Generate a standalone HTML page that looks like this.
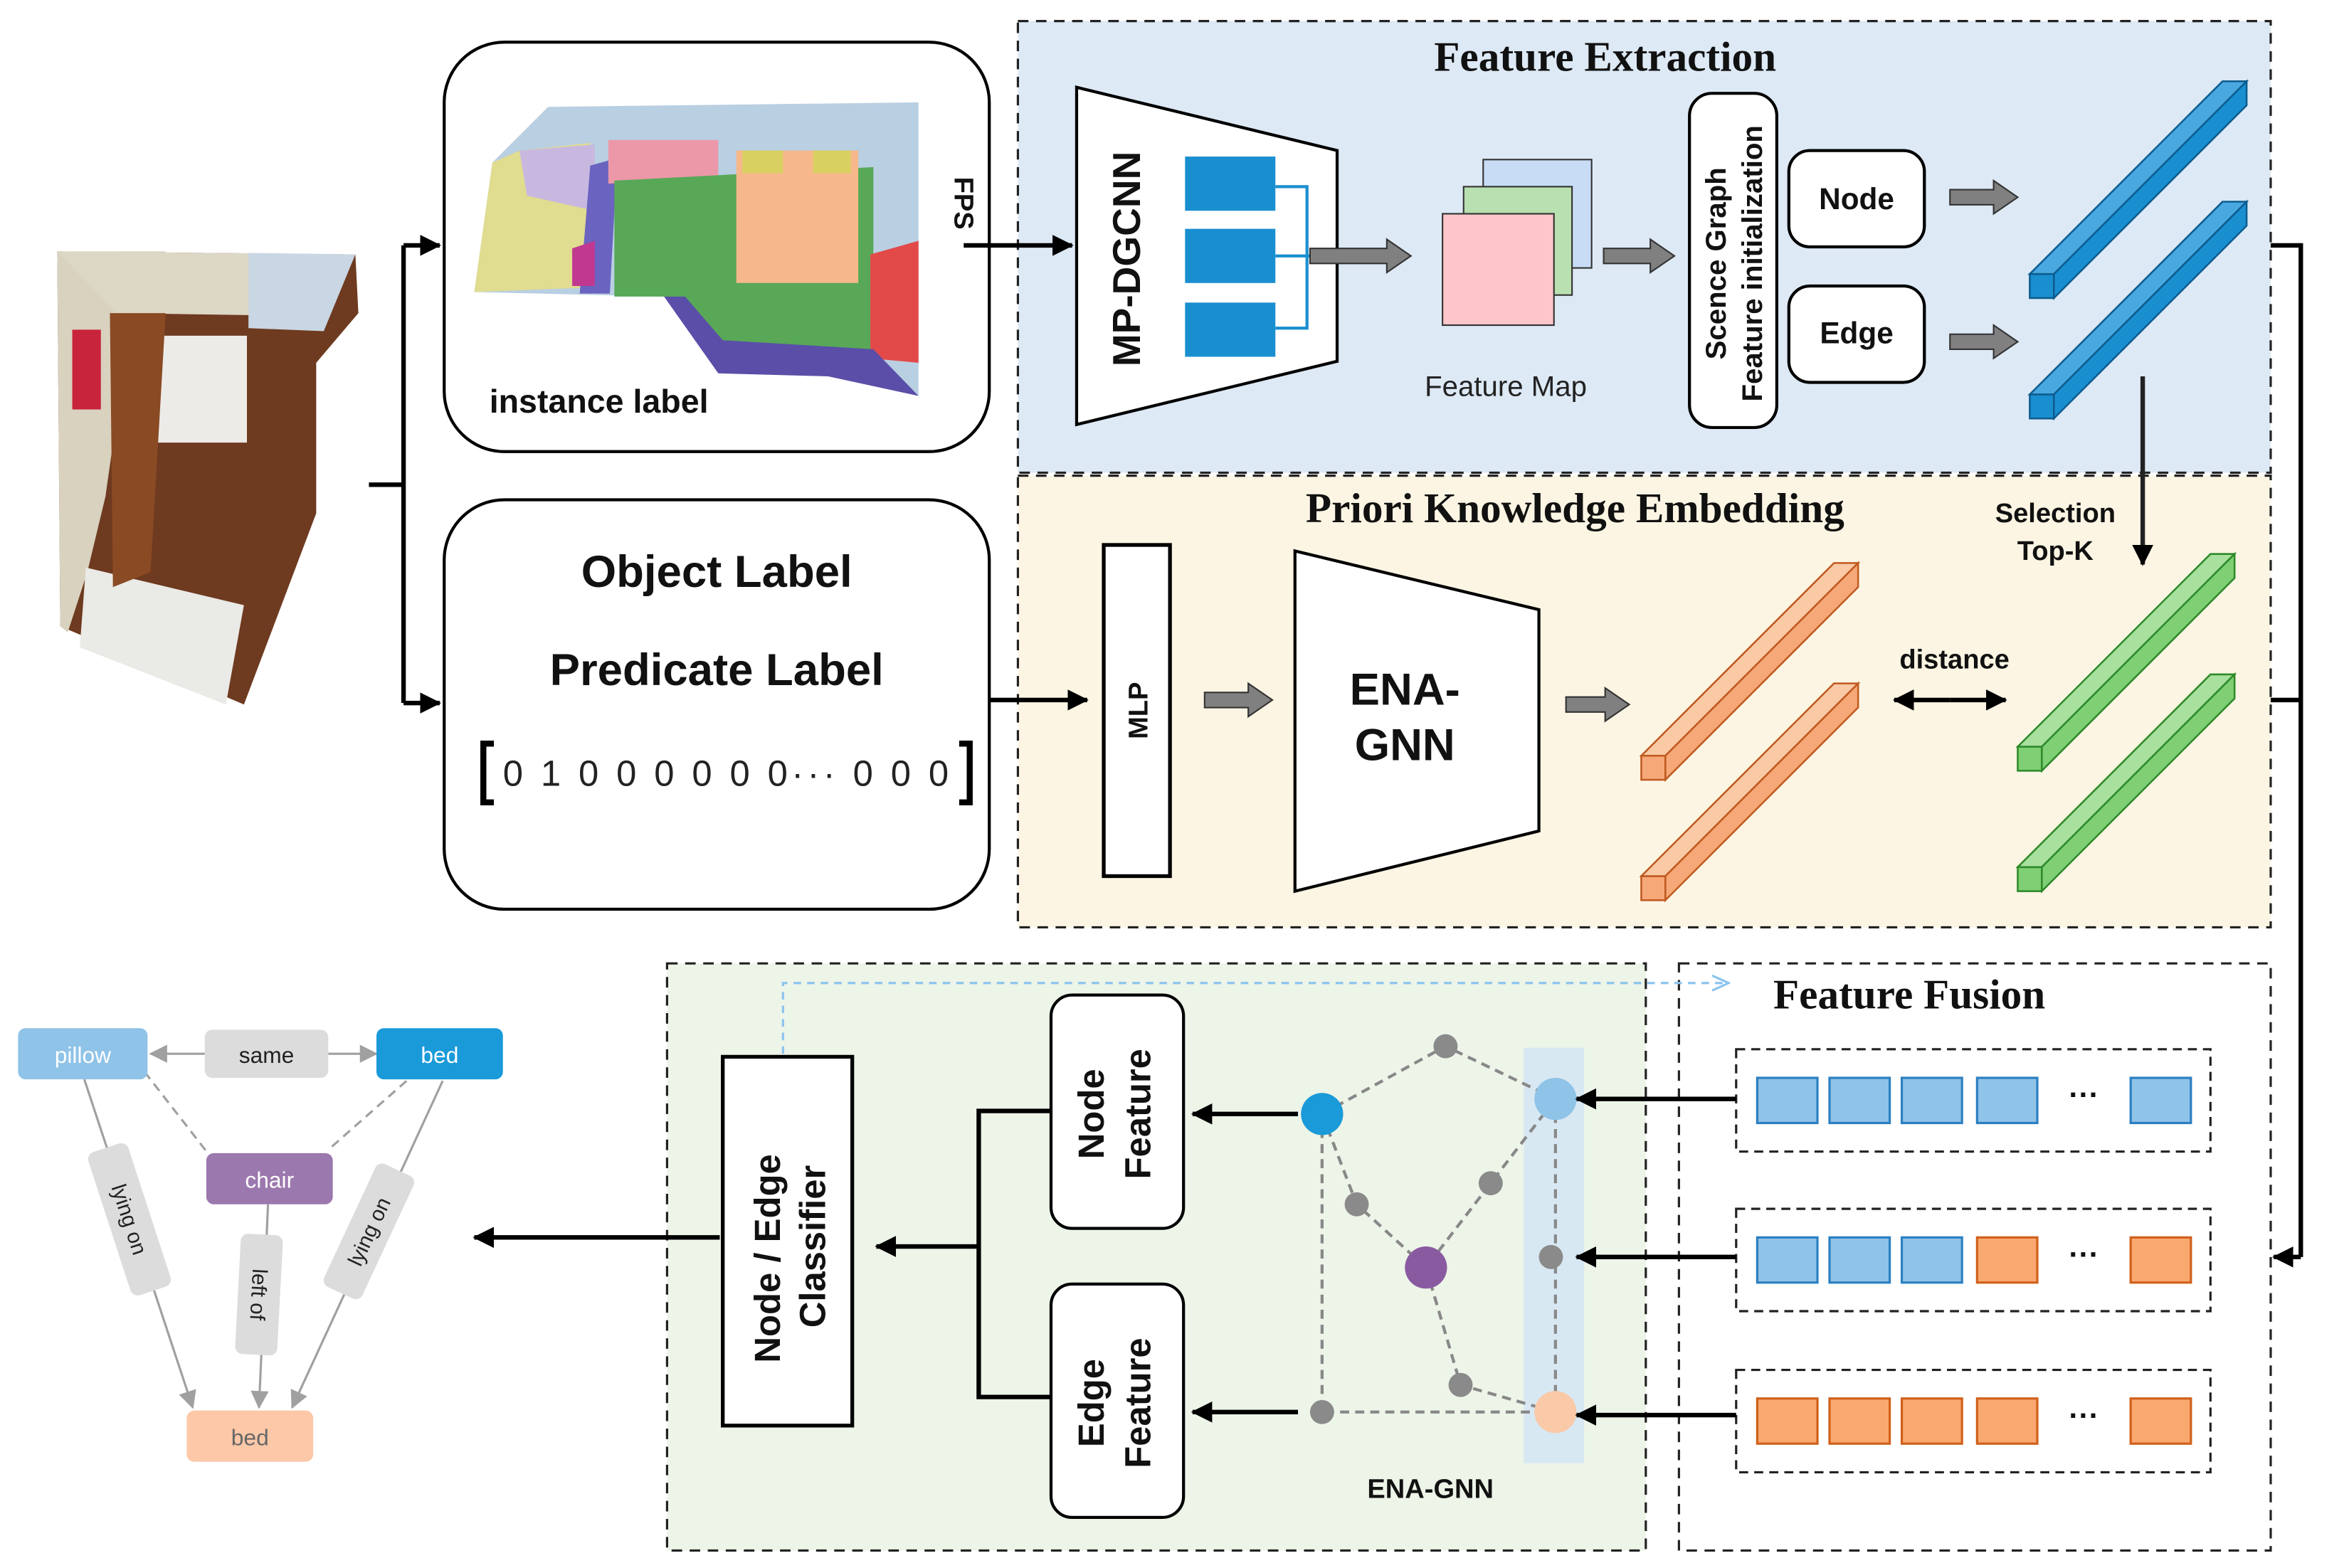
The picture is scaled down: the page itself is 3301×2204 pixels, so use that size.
<!DOCTYPE html>
<html><head><meta charset="utf-8"><style>
html,body{margin:0;padding:0;background:#fff;width:3301px;height:2204px;overflow:hidden}
svg{display:block}
.b{font-family:"Liberation Sans",Arial,sans-serif;font-weight:bold;fill:#111}
.s{font-family:"Liberation Serif",serif;font-weight:bold;fill:#111}
.n{font-family:"Liberation Sans",Arial,sans-serif;fill:#222}
</style></head><body>
<svg width="3301" height="2204" viewBox="0 0 1560 1041.6" preserveAspectRatio="none" xmlns="http://www.w3.org/2000/svg">
<defs>
<marker id="ahb" markerWidth="14" markerHeight="14" refX="13" refY="7" orient="auto" markerUnits="userSpaceOnUse"><path d="M0,0 L14,7 L0,14 z" fill="#000"/></marker>
<marker id="ahg" markerWidth="12" markerHeight="12" refX="11" refY="6" orient="auto" markerUnits="userSpaceOnUse"><path d="M0,0 L12,6 L0,12 z" fill="#a0a0a0"/></marker>
<marker id="ahl" markerWidth="12" markerHeight="12" refX="11" refY="6" orient="auto" markerUnits="userSpaceOnUse"><path d="M0,1 L11,6 L0,11" fill="none" stroke="#8cc4ee" stroke-width="1.5"/></marker>
</defs>

<!-- regions -->
<rect x="676" y="14" width="832" height="300" fill="#dde9f5" stroke="#222" stroke-width="1.5" stroke-dasharray="7,5"/>
<rect x="676" y="316" width="832" height="300" fill="#fcf5e3" stroke="#222" stroke-width="1.5" stroke-dasharray="7,5"/>
<rect x="443" y="640" width="650" height="390" fill="#edf4e8" stroke="#222" stroke-width="1.5" stroke-dasharray="7,5"/>
<rect x="1115" y="640" width="393" height="390" fill="#fff" stroke="#222" stroke-width="1.5" stroke-dasharray="7,5"/>

<text x="1066" y="47" text-anchor="middle" class="s" font-size="28">Feature Extraction</text>
<text x="1046" y="347" text-anchor="middle" class="s" font-size="28">Priori Knowledge Embedding</text>
<text x="1268" y="670" text-anchor="middle" class="s" font-size="28">Feature Fusion</text>

<!-- room photo -->
<polygon points="38,167 236,169 238,208 210,241 210,341 162,468 40,416" fill="#6e3a20"/>
<polygon points="38,167 110,167 80,260 70,330 58,380 45,420 40,416" fill="#d8d2bf"/>
<polygon points="38,167 236,169 210,210 78,208" fill="#ddd7c5"/>
<polygon points="165,168 236,169 215,220 165,218" fill="#c9d6e3"/>
<polygon points="81,223 164,223 164,294 81,294" fill="#ecebe8"/>
<polygon points="57,377 162,402 150,468 53,430" fill="#eaeae6"/>
<rect x="48" y="219" width="19" height="53" fill="#c8243c"/>
<polygon points="73,208 110,208 100,380 75,390" fill="#8a4a24"/>

<!-- bracket -->
<line x1="245" y1="322" x2="268" y2="322" stroke="#000" stroke-width="3"/>
<line x1="268" y1="163" x2="268" y2="467" stroke="#000" stroke-width="3"/>
<line x1="268" y1="163" x2="292" y2="163" stroke="#000" stroke-width="3" marker-end="url(#ahb)"/>
<line x1="268" y1="467" x2="292" y2="467" stroke="#000" stroke-width="3" marker-end="url(#ahb)"/>

<!-- box1 -->
<rect x="295" y="28" width="362" height="272" rx="40" fill="#fff" stroke="#000" stroke-width="2"/>
<polygon points="364,71 610,68 610,263 550,241 477,238 441,197 315,194 327,108" fill="#b9cfe2"/>
<polygon points="327,108 345,100 392,95 392,191 315,194" fill="#e0dc90"/>
<polygon points="345,100 395,96 395,140 350,130" fill="#c8b8e0"/>
<polygon points="392,110 410,105 405,195 385,195" fill="#6a64c0"/>
<polygon points="404,93 477,93 477,118 404,122" fill="#ec98a8"/>
<polygon points="408,120 580,111 580,238 477,238 441,197 408,197" fill="#58a858"/>
<polygon points="489,100 570,100 570,188 489,188" fill="#f6b88a"/>
<polygon points="493,100 520,100 520,115 493,115" fill="#d8d060"/>
<polygon points="540,100 565,100 565,115 540,115" fill="#d8d060"/>
<polygon points="578,169 610,160 610,241 578,238" fill="#e24a4a"/>
<polygon points="441,197 455,197 480,226 580,232 610,263 550,250 477,248" fill="#5a4ea8"/>
<polygon points="380,165 395,160 395,190 380,190" fill="#c03890"/>
<text x="325" y="274" class="b" font-size="22">instance label</text>
<text transform="translate(634,135) rotate(90)" text-anchor="middle" class="b" font-size="18">FPS</text>
<line x1="640" y1="163" x2="712" y2="163" stroke="#000" stroke-width="3" marker-end="url(#ahb)"/>

<!-- MP-DGCNN -->
<polygon points="715,58 888,100 888,240 715,282" fill="#fff" stroke="#000" stroke-width="2"/>
<text transform="translate(757,172) rotate(-90)" text-anchor="middle" class="b" font-size="26">MP-DGCNN</text>
<rect x="787" y="104" width="60" height="36" fill="#1a8fd0"/>
<rect x="787" y="152" width="60" height="36" fill="#1a8fd0"/>
<rect x="787" y="201" width="60" height="36" fill="#1a8fd0"/>
<polyline points="847,124 868,124 868,218 847,218" fill="none" stroke="#1a8fd0" stroke-width="2"/>
<line x1="847" y1="170" x2="870" y2="170" stroke="#1a8fd0" stroke-width="2"/>
<polygon points="870,165 921,165 921,159 937,170 921,181 921,175 870,175" fill="#808080" stroke="#333"/>

<rect x="985" y="106" width="72" height="72" fill="#c8dcf5" stroke="#333"/>
<rect x="972" y="124" width="72" height="72" fill="#b9e0b0" stroke="#333"/>
<rect x="958" y="142" width="74" height="74" fill="#fcc6cb" stroke="#333"/>
<text x="1000" y="263" text-anchor="middle" class="n" font-size="19">Feature Map</text>
<polygon points="1065,165 1096,165 1096,159 1112,170 1096,181 1096,175 1065,175" fill="#808080" stroke="#333"/>

<rect x="1122" y="62" width="58" height="222" rx="15" fill="#fff" stroke="#000" stroke-width="2"/>
<text transform="translate(1146,175) rotate(-90)" text-anchor="middle" class="b" font-size="19">Scence Graph</text>
<text transform="translate(1170,175) rotate(-90)" text-anchor="middle" class="b" font-size="19">Feature initialization</text>
<rect x="1188" y="100" width="90" height="64" rx="14" fill="#fff" stroke="#000" stroke-width="2"/>
<text x="1233" y="139" text-anchor="middle" class="b" font-size="20">Node</text>
<rect x="1188" y="190" width="90" height="64" rx="14" fill="#fff" stroke="#000" stroke-width="2"/>
<text x="1233" y="228" text-anchor="middle" class="b" font-size="20">Edge</text>
<polygon points="1295,126 1324,126 1324,120 1340,131 1324,142 1324,136 1295,136" fill="#808080" stroke="#333"/>
<polygon points="1295,222 1324,222 1324,216 1340,227 1324,238 1324,232 1295,232" fill="#808080" stroke="#333"/>

<!-- blue bars -->
<g fill="#1a8fd0" stroke="#0d5c8f" stroke-width="1.2">
<rect x="1348" y="182" width="16" height="16"/>
<polygon points="1348,182 1476,54 1492,54 1364,182" fill="#4aa8e0"/>
<polygon points="1364,182 1492,54 1492,70 1364,198"/>
<rect x="1348" y="262" width="16" height="16"/>
<polygon points="1348,262 1476,134 1492,134 1364,262" fill="#4aa8e0"/>
<polygon points="1364,262 1492,134 1492,150 1364,278"/>
</g>
<line x1="1423" y1="250" x2="1423" y2="375" stroke="#222" stroke-width="3" marker-end="url(#ahb)"/>
<text x="1365" y="347" text-anchor="middle" class="b" font-size="18">Selection</text>
<text x="1365" y="372" text-anchor="middle" class="b" font-size="18">Top-K</text>

<!-- right connector -->
<polyline points="1508,163 1528,163 1528,835" fill="none" stroke="#000" stroke-width="3"/>
<line x1="1508" y1="465" x2="1528" y2="465" stroke="#000" stroke-width="3"/>
<line x1="1528" y1="835" x2="1510" y2="835" stroke="#000" stroke-width="3" marker-end="url(#ahb)"/>

<!-- box2 -->
<rect x="295" y="332" width="362" height="272" rx="40" fill="#fff" stroke="#000" stroke-width="2"/>
<text x="476" y="390" text-anchor="middle" class="b" font-size="30">Object Label</text>
<text x="476" y="455" text-anchor="middle" class="b" font-size="30">Predicate Label</text>
<text x="334" y="522" textLength="296" lengthAdjust="spacing" class="n" font-size="24" fill="#000">0 1 0 0 0 0 0 0··· 0 0 0</text>
<polyline points="328,494 321,494 321,533 328,533" fill="none" stroke="#000" stroke-width="4"/>
<polyline points="637,494 644,494 644,533 637,533" fill="none" stroke="#000" stroke-width="4"/>
<line x1="657" y1="465" x2="722" y2="465" stroke="#000" stroke-width="3" marker-end="url(#ahb)"/>

<rect x="733" y="362" width="44" height="220" fill="#fff" stroke="#000" stroke-width="2.5"/>
<text transform="translate(762,472) rotate(-90)" text-anchor="middle" class="b" font-size="18">MLP</text>
<polygon points="800,460 829,460 829,454 845,465 829,476 829,470 800,470" fill="#808080" stroke="#333"/>
<polygon points="860,366 1022,405 1022,552 860,592" fill="#fff" stroke="#000" stroke-width="2"/>
<text x="933" y="468" text-anchor="middle" class="b" font-size="30">ENA-</text>
<text x="933" y="505" text-anchor="middle" class="b" font-size="30">GNN</text>
<polygon points="1040,463 1066,463 1066,457 1082,468 1066,479 1066,473 1040,473" fill="#808080" stroke="#333"/>

<g fill="#f6a878" stroke="#c05a20" stroke-width="1.2">
<rect x="1090" y="502" width="16" height="16"/>
<polygon points="1090,502 1218,374 1234,374 1106,502" fill="#fac9a6"/>
<polygon points="1106,502 1234,374 1234,390 1106,518"/>
<rect x="1090" y="582" width="16" height="16"/>
<polygon points="1090,582 1218,454 1234,454 1106,582" fill="#fac9a6"/>
<polygon points="1106,582 1234,454 1234,470 1106,598"/>
</g>
<text x="1298" y="444" text-anchor="middle" class="b" font-size="18">distance</text>
<line x1="1295" y1="465" x2="1332" y2="465" stroke="#000" stroke-width="3" marker-end="url(#ahb)"/>
<line x1="1295" y1="465" x2="1258" y2="465" stroke="#000" stroke-width="3" marker-end="url(#ahb)"/>
<g fill="#7fcf75" stroke="#2e8a2a" stroke-width="1.2">
<rect x="1340" y="496" width="16" height="16"/>
<polygon points="1340,496 1468,368 1484,368 1356,496" fill="#a8e09e"/>
<polygon points="1356,496 1484,368 1484,384 1356,512"/>
<rect x="1340" y="576" width="16" height="16"/>
<polygon points="1340,576 1468,448 1484,448 1356,576" fill="#a8e09e"/>
<polygon points="1356,576 1484,448 1484,464 1356,592"/>
</g>

<!-- bottom green region -->
<polyline points="520,700 520,653 1148,653" fill="none" stroke="#8cc4ee" stroke-width="1.5" stroke-dasharray="5,4" marker-end="url(#ahl)"/>
<rect x="480" y="702" width="86" height="245" fill="#fff" stroke="#000" stroke-width="2.5"/>
<text transform="translate(518,836) rotate(-90)" text-anchor="middle" class="b" font-size="24">Node / Edge</text>
<text transform="translate(548,828) rotate(-90)" text-anchor="middle" class="b" font-size="24">Classifier</text>
<rect x="698" y="661" width="88" height="155" rx="14" fill="#fff" stroke="#000" stroke-width="2"/>
<text transform="translate(733,740) rotate(-90)" text-anchor="middle" class="b" font-size="24">Node</text>
<text transform="translate(764,740) rotate(-90)" text-anchor="middle" class="b" font-size="24">Feature</text>
<rect x="698" y="853" width="88" height="155" rx="14" fill="#fff" stroke="#000" stroke-width="2"/>
<text transform="translate(733,932) rotate(-90)" text-anchor="middle" class="b" font-size="24">Edge</text>
<text transform="translate(764,932) rotate(-90)" text-anchor="middle" class="b" font-size="24">Feature</text>
<polyline points="698,738 650,738 650,928 698,928" fill="none" stroke="#000" stroke-width="3"/>
<line x1="650" y1="828" x2="582" y2="828" stroke="#000" stroke-width="3" marker-end="url(#ahb)"/>
<line x1="478" y1="822" x2="315" y2="822" stroke="#000" stroke-width="3" marker-end="url(#ahb)"/>
<line x1="862" y1="740" x2="792" y2="740" stroke="#000" stroke-width="3" marker-end="url(#ahb)"/>
<line x1="862" y1="938" x2="792" y2="938" stroke="#000" stroke-width="3" marker-end="url(#ahb)"/>

<rect x="1012" y="696" width="40" height="276" fill="#d3e5f4" opacity="0.85"/>
<g stroke="#888" stroke-width="2" stroke-dasharray="6,4" fill="none">
<polyline points="878,740 960,695 1033,730"/>
<polyline points="878,740 901,800 947,842 990,786 1033,730"/>
<polyline points="878,740 878,938 1033,938"/>
<polyline points="947,842 970,920 1033,938"/>
<line x1="1033" y1="730" x2="1033" y2="938"/>
</g>
<g fill="#8a8a8a">
<circle cx="960" cy="695" r="8"/><circle cx="990" cy="786" r="8"/><circle cx="901" cy="800" r="8"/>
<circle cx="1030" cy="835" r="8"/><circle cx="970" cy="920" r="8"/><circle cx="878" cy="938" r="8"/>
</g>
<circle cx="878" cy="740" r="14" fill="#1a9ad8"/>
<circle cx="1033" cy="730" r="14" fill="#8fc3e8"/>
<circle cx="947" cy="842" r="14" fill="#8a5aa0"/>
<circle cx="1033" cy="938" r="14" fill="#f9c9a8"/>
<text x="950" y="995" text-anchor="middle" class="b" font-size="18">ENA-GNN</text>

<!-- fusion rows -->
<g fill="none" stroke="#222" stroke-width="1.5" stroke-dasharray="6,4">
<rect x="1153" y="697" width="315" height="68"/>
<rect x="1153" y="803" width="315" height="68"/>
<rect x="1153" y="910" width="315" height="68"/>
</g>
<g stroke-width="1.5">
<g fill="#8fc3e8" stroke="#2b7fc0">
<rect x="1167" y="716" width="40" height="30"/><rect x="1215" y="716" width="40" height="30"/><rect x="1263" y="716" width="40" height="30"/><rect x="1313" y="716" width="40" height="30"/><rect x="1415" y="716" width="40" height="30"/>
<rect x="1167" y="822" width="40" height="30"/><rect x="1215" y="822" width="40" height="30"/><rect x="1263" y="822" width="40" height="30"/>
</g>
<g fill="#f9a870" stroke="#d0601a">
<rect x="1313" y="822" width="40" height="30"/><rect x="1415" y="822" width="40" height="30"/>
<rect x="1167" y="929" width="40" height="30"/><rect x="1215" y="929" width="40" height="30"/><rect x="1263" y="929" width="40" height="30"/><rect x="1313" y="929" width="40" height="30"/><rect x="1415" y="929" width="40" height="30"/>
</g>
</g>
<text x="1384" y="734" text-anchor="middle" class="b" font-size="20">···</text>
<text x="1384" y="840" text-anchor="middle" class="b" font-size="20">···</text>
<text x="1384" y="947" text-anchor="middle" class="b" font-size="20">···</text>
<line x1="1153" y1="730" x2="1047" y2="730" stroke="#000" stroke-width="3" marker-end="url(#ahb)"/>
<line x1="1153" y1="835" x2="1047" y2="835" stroke="#000" stroke-width="3" marker-end="url(#ahb)"/>
<line x1="1153" y1="940" x2="1047" y2="940" stroke="#000" stroke-width="3" marker-end="url(#ahb)"/>

<!-- output scene graph -->
<g stroke="#a0a0a0" stroke-width="1.5" fill="none">
<line x1="136" y1="700" x2="100" y2="700" marker-end="url(#ahg)"/>
<line x1="218" y1="700" x2="250" y2="700" marker-end="url(#ahg)"/>
<line x1="96" y1="712" x2="138" y2="766" stroke-dasharray="6,4"/>
<line x1="270" y1="718" x2="220" y2="762" stroke-dasharray="6,4"/>
<line x1="56" y1="717" x2="128" y2="935" marker-end="url(#ahg)"/>
<line x1="294" y1="718" x2="194" y2="935" marker-end="url(#ahg)"/>
<line x1="178" y1="800" x2="172" y2="935" marker-end="url(#ahg)"/>
</g>
<rect x="12" y="683" width="86" height="34" rx="5" fill="#8fc3e8"/>
<text x="55" y="706" text-anchor="middle" font-family="Liberation Sans,sans-serif" font-size="15" fill="#fff">pillow</text>
<rect x="136" y="684" width="82" height="32" rx="5" fill="#dcdcdc"/>
<text x="177" y="706" text-anchor="middle" font-family="Liberation Sans,sans-serif" font-size="15" fill="#222">same</text>
<rect x="250" y="683" width="84" height="34" rx="5" fill="#1a9ad8"/>
<text x="292" y="706" text-anchor="middle" font-family="Liberation Sans,sans-serif" font-size="15" fill="#fff">bed</text>
<rect x="137" y="766" width="84" height="34" rx="5" fill="#9b78ad"/>
<text x="179" y="789" text-anchor="middle" font-family="Liberation Sans,sans-serif" font-size="15" fill="#fff">chair</text>
<rect x="124" y="937" width="84" height="34" rx="5" fill="#fcc8a8"/>
<text x="166" y="960" text-anchor="middle" font-family="Liberation Sans,sans-serif" font-size="15" fill="#666">bed</text>
<g transform="translate(86,810) rotate(-18)"><rect x="-14" y="-50" width="28" height="100" rx="5" fill="#dcdcdc"/><text transform="rotate(90)" x="0" y="5" text-anchor="middle" font-family="Liberation Sans,sans-serif" font-size="14" fill="#222">lying on</text></g>
<g transform="translate(172,860) rotate(3)"><rect x="-14" y="-40" width="28" height="80" rx="5" fill="#dcdcdc"/><text transform="rotate(90)" x="0" y="5" text-anchor="middle" font-family="Liberation Sans,sans-serif" font-size="14" fill="#222">left of</text></g>
<g transform="translate(245,818) rotate(25)"><rect x="-14" y="-45" width="28" height="90" rx="5" fill="#dcdcdc"/><text transform="rotate(-90)" x="0" y="5" text-anchor="middle" font-family="Liberation Sans,sans-serif" font-size="14" fill="#222">lying on</text></g>
</svg>
</body></html>
